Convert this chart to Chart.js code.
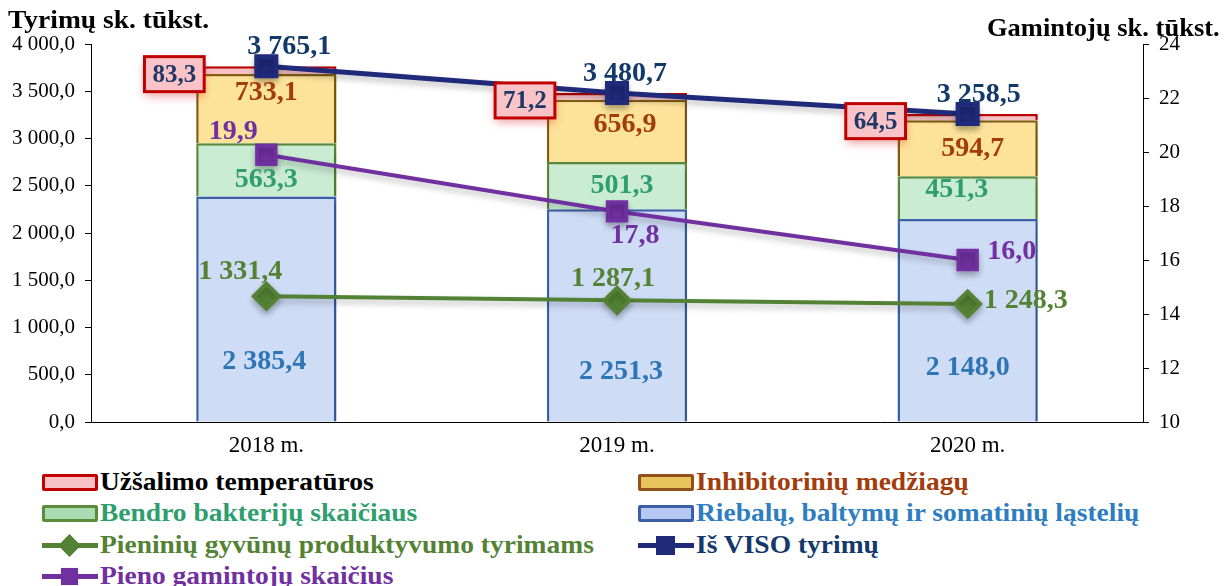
<!DOCTYPE html>
<html lang="lt">
<head>
<meta charset="utf-8">
<script src="https://cdn.jsdelivr.net/npm/chart.js@4/dist/chart.umd.min.js"></script>
<style>
    body { margin: 0; background: #fff; font-family: "Liberation Serif", "Times New Roman", serif; }
    #wrap { position: relative; width: 1224px; height: 586px; overflow: hidden; }
    #chartBox { position: absolute; left: 0; top: 0; width: 1224px; height: 460px; }
    .axis-title { position: absolute; font-weight: bold; font-size: 25px; color: #000; white-space: nowrap; transform-origin: left center; }
    #legend { position: absolute; left: 42px; top: 466px; display: grid; grid-template-columns: 596px 560px; grid-auto-rows: 31.5px; }
    .item { display: flex; align-items: center; font-weight: bold; font-size: 25px; white-space: nowrap; }
    .item .txt { display: inline-block; transform: scaleX(1.1); transform-origin: left center; }
    .mark { width: 56px; height: 20px; position: relative; margin-right: 2px; flex: none; }
    .box { position: absolute; left: 0; top: 2px; width: 50px; height: 11px; border: 3px solid; border-radius: 2px; }
    .line { position: absolute; left: 0; top: 8px; width: 56px; height: 5px; }
    .dot { position: absolute; left: 18px; top: 1px; width: 19px; height: 19px; }
    .diamond { transform: rotate(45deg) scale(0.85); }
</style>
</head>
<body>
<div id="wrap">
    <div id="chartBox"><canvas id="chart" width="1224" height="460"></canvas></div>
    <div class="axis-title" style="left:8px; top:6px; transform:scaleX(1.1);">Tyrimų sk. tūkst.</div>
    <div class="axis-title" style="left:987px; top:14px; transform:scaleX(1.06);">Gamintojų sk. tūkst.</div>
    <div id="legend">
        <div class="item" style="color:#000"><span class="mark"><span class="box" style="background:#f8c1c5;border-color:#c00000"></span></span><span class="txt">Užšalimo temperatūros</span></div>
        <div class="item" style="color:#a33c0b"><span class="mark"><span class="box" style="background:#e9c45c;border-color:#94501a"></span></span><span class="txt">Inhibitorinių medžiagų</span></div>
        <div class="item" style="color:#2f9e6e"><span class="mark"><span class="box" style="background:#a9dcb2;border-color:#5b8c3b"></span></span><span class="txt">Bendro bakterijų skaičiaus</span></div>
        <div class="item" style="color:#2e7dc0"><span class="mark"><span class="box" style="background:#b6c9f2;border-color:#3c5fa6"></span></span><span class="txt">Riebalų, baltymų ir somatinių ląstelių</span></div>
        <div class="item" style="color:#548235"><span class="mark"><span class="line" style="background:#548235"></span><span class="dot diamond" style="background:#548235"></span></span><span class="txt">Pieninių gyvūnų produktyvumo tyrimams</span></div>
        <div class="item" style="color:#13386a"><span class="mark"><span class="line" style="background:#1f2a7a"></span><span class="dot" style="background:#1f2a7a"></span></span><span class="txt">Iš VISO tyrimų</span></div>
        <div class="item" style="color:#7030a0"><span class="mark"><span class="line" style="background:#7030a0"></span><span class="dot" style="background:#7030a0;transform:scale(0.9)"></span></span><span class="txt">Pieno gamintojų skaičius</span></div>
    </div>
</div>
<script>
const years = ["2018 m.", "2019 m.", "2020 m."];
const riebalu = [2385.4, 2251.3, 2148.0];
const bendro = [563.3, 501.3, 451.3];
const inhibitoriniu = [733.1, 656.9, 594.7];
const uzsalimo = [83.3, 71.2, 64.5];
const isViso = [3765.1, 3480.7, 3258.5];
const produktyvumo = [1331.4, 1287.1, 1248.3];
const gamintoju = [19.9, 17.8, 16.0];
const leftAxis = { min: 0, max: 4000, step: 500 };
const rightAxis = { min: 10, max: 24, step: 2 };

const serif = '"Liberation Serif", "Times New Roman", serif';

function fmt(v) {
    const parts = v.toFixed(1).split(".");
    return parts[0].replace(/\B(?=(\d{3})+(?!\d))/g, " ") + "," + parts[1];
}

// label placement per dataset index: [dx, dy] from segment centre / point
const labelSpecs = {
    0: { color: "#2e75b6", offsets: [[-2, 53], [4, 56], [0, 48]] },
    1: { color: "#2f9e6e", offsets: [[0, 10], [5, 0], [-11, -8]] },
    2: { color: "#a33c0b", offsets: [[0, -16], [8, -6], [5, 0]] },
    3: { color: "#1f3864", boxed: true },
    4: { color: "#13386a", offsets: [[23, -19], [8, -19], [11, -19]] },
    5: { color: "#548235", offsets: [[-26, -24], [-4, -22], [58, -3]] },
    6: { color: "#7030a0", offsets: [[-33, -23], [18, 24], [44, -8]] }
};

const shadowPlugin = {
    id: "shadows",
    beforeDatasetDraw(chart, args) {
        const ctx = chart.ctx;
        const ds = chart.data.datasets[args.index];
        ctx.save();
        if (ds.type === "bar") {
            ctx.shadowColor = "rgba(0,0,0,0.22)";
            ctx.shadowBlur = 8;
            ctx.shadowOffsetX = 2;
            ctx.shadowOffsetY = 3;
        } else {
            ctx.shadowColor = "rgba(0,0,0,0.25)";
            ctx.shadowBlur = 6;
            ctx.shadowOffsetY = 4;
        }
    },
    afterDatasetDraw(chart) {
        chart.ctx.restore();
    }
};

const labelPlugin = {
    id: "valueLabels",
    afterDatasetsDraw(chart) {
        const ctx = chart.ctx;
        chart.data.datasets.forEach((ds, i) => {
            const spec = labelSpecs[i];
            if (!spec) return;
            const meta = chart.getDatasetMeta(i);
            meta.data.forEach((el, j) => {
                const p = el.getProps(["x", "y", "base", "width"], true);
                const text = fmt(ds.data[j]);
                ctx.save();
                ctx.textAlign = "center";
                ctx.textBaseline = "middle";
                if (spec.boxed) {
                    ctx.font = "bold 25px " + serif;
                    const w = ctx.measureText(text).width + 16;
                    const h = 35;
                    const right = p.x - p.width / 2 + 8;
                    const cy = (p.y + p.base) / 2 + 4;
                    ctx.shadowColor = "rgba(210,0,0,0.35)";
                    ctx.shadowBlur = 9;
                    ctx.shadowOffsetY = 5;
                    ctx.fillStyle = "#f9c3c7";
                    ctx.fillRect(right - w, cy - h / 2, w, h);
                    ctx.shadowColor = "transparent";
                    ctx.lineWidth = 3;
                    ctx.strokeStyle = "#c00000";
                    ctx.strokeRect(right - w, cy - h / 2, w, h);
                    ctx.fillStyle = spec.color;
                    ctx.fillText(text, right - w / 2, cy + 1);
                } else {
                    const off = spec.offsets[j];
                    const cy = ds.type === "bar" ? (p.y + p.base) / 2 : p.y;
                    ctx.font = "bold 28px " + serif;
                    ctx.fillStyle = spec.color;
                    ctx.fillText(text, p.x + off[0], cy + off[1]);
                }
                ctx.restore();
            });
        });
    }
};

const tickFont = { family: serif, size: 21 };

new Chart(document.getElementById("chart"), {
    data: {
        labels: years,
        datasets: [
            {
                type: "bar",
                label: "Riebalų, baltymų ir somatinių ląstelių",
                data: riebalu,
                backgroundColor: "#cfdcf6",
                borderColor: "#3c64ad",
                borderWidth: 2.5,
                stack: "bars",
                order: 2
            },
            {
                type: "bar",
                label: "Bendro bakterijų skaičiaus",
                data: bendro,
                backgroundColor: "#c9ecd3",
                borderColor: "#5b8c3b",
                borderWidth: 2.5,
                stack: "bars",
                order: 2
            },
            {
                type: "bar",
                label: "Inhibitorinių medžiagų",
                data: inhibitoriniu,
                backgroundColor: "#fde39a",
                borderColor: "#8c6010",
                borderWidth: 2.5,
                stack: "bars",
                order: 2
            },
            {
                type: "bar",
                label: "Užšalimo temperatūros",
                data: uzsalimo,
                backgroundColor: "#f8c1c5",
                borderColor: "#c00000",
                borderWidth: 2.5,
                stack: "bars",
                order: 2
            },
            {
                type: "line",
                label: "Iš VISO tyrimų",
                data: isViso,
                borderColor: "#1f2a7a",
                backgroundColor: "#1f2a7a",
                borderWidth: 5,
                pointStyle: "rect",
                pointRadius: 13.5,
                pointHoverRadius: 13.5,
                stack: "total",
                order: 1
            },
            {
                type: "line",
                label: "Pieninių gyvūnų produktyvumo tyrimams",
                data: produktyvumo,
                borderColor: "#548235",
                backgroundColor: "#548235",
                borderWidth: 4,
                pointStyle: "rectRot",
                pointRadius: 12.5,
                pointHoverRadius: 12.5,
                stack: "prod",
                order: 1
            },
            {
                type: "line",
                label: "Pieno gamintojų skaičius",
                data: gamintoju,
                borderColor: "#7030a0",
                backgroundColor: "#7030a0",
                borderWidth: 4,
                pointStyle: "rect",
                pointRadius: 13,
                pointHoverRadius: 13,
                yAxisID: "y1",
                order: 1
            }
        ]
    },
    options: {
        responsive: false,
        animation: false,
        layout: { padding: { top: 44 } },
        datasets: { bar: { categoryPercentage: 1, barPercentage: 0.4 } },
        plugins: {
            legend: { display: false },
            tooltip: { enabled: false }
        },
        scales: {
            x: {
                stacked: true,
                grid: { display: false },
                border: { color: "#000" },
                ticks: { color: "#000", font: { family: serif, size: 23 }, padding: 2 },
                afterFit(scale) { scale.height = 38; }
            },
            y: {
                stacked: true,
                position: "left",
                min: leftAxis.min,
                max: leftAxis.max,
                grid: { drawOnChartArea: false, drawTicks: true, tickLength: 6, color: "#000" },
                border: { color: "#000" },
                ticks: {
                    stepSize: leftAxis.step,
                    color: "#000",
                    font: tickFont,
                    padding: 10,
                    callback: (v) => fmt(v)
                },
                afterFit(scale) { scale.width = 91; }
            },
            y1: {
                position: "right",
                min: rightAxis.min,
                max: rightAxis.max,
                grid: { drawOnChartArea: false, drawTicks: true, tickLength: 6, color: "#000" },
                border: { color: "#000" },
                ticks: { stepSize: rightAxis.step, color: "#000", font: tickFont, padding: 10 },
                afterFit(scale) { scale.width = 81; }
            }
        }
    },
    plugins: [shadowPlugin, labelPlugin]
});
</script>
</body>
</html>
